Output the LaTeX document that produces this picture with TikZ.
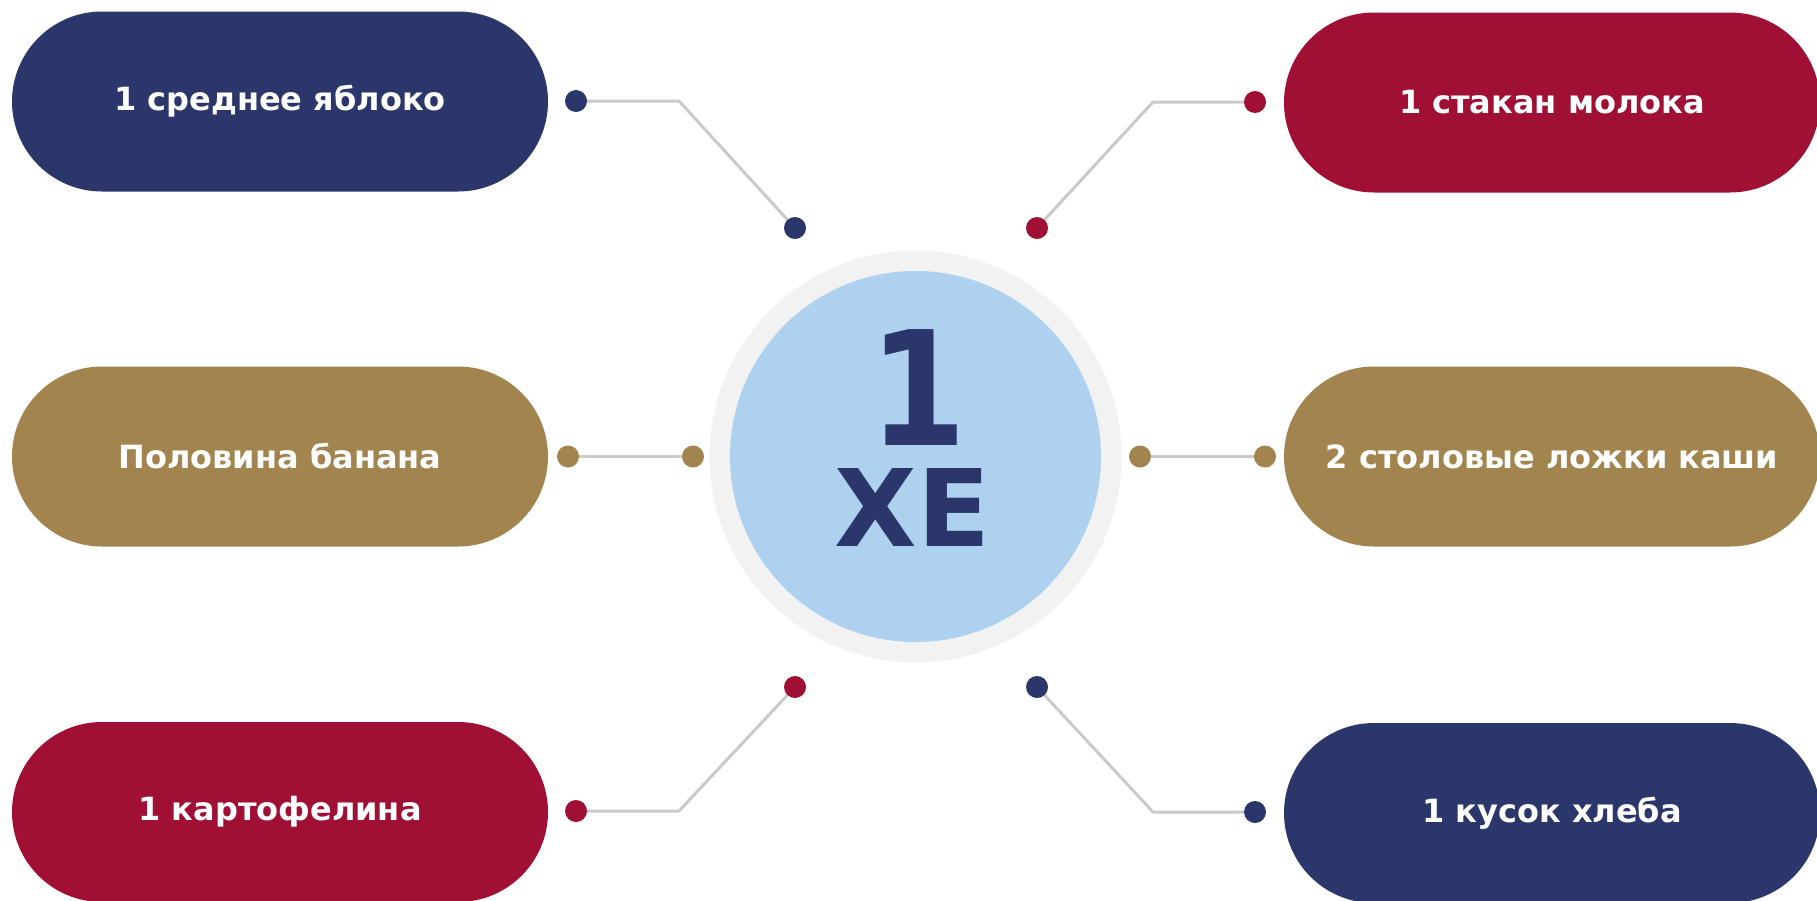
\documentclass[tikz,border=0pt]{standalone}
\usepackage{fontspec}
\setmainfont{DejaVu Sans}
\usetikzlibrary{backgrounds}
\definecolor{navy}{HTML}{2B376B}
\definecolor{crimson}{HTML}{A01035}
\definecolor{gold}{HTML}{A2844F}
\definecolor{skyfill}{HTML}{ADD1EE}
\definecolor{ringgray}{HTML}{F2F2F2}
\definecolor{linkgray}{HTML}{CACACA}
\begin{document}
\begin{tikzpicture}[x=1pt,y=-1pt,
  pill/.style={fill=#1, rounded corners=90pt, minimum width=536pt,
    minimum height=180pt, inner sep=0pt, text=white,
    font=\fontsize{32}{38}\selectfont\bfseries},
  dot/.style={circle, fill=#1, minimum size=22pt, inner sep=0pt},
  link/.style={draw=linkgray, line width=3pt},
  badge/.style={text=navy, inner sep=0pt, align=center,
    font=\fontsize{107}{101}\selectfont\bfseries}]
\useasboundingbox (0,0) rectangle (1817,900);
\clip (0,0) rectangle (1817,900);

% centre badge
\node[circle, fill=ringgray, minimum size=412pt, inner sep=0pt] (ring) at (915.5,456.5) {};
\node[circle, fill=skyfill, minimum size=371pt, inner sep=0pt] (core) at (915.5,456.5) {};
\node[badge] (unit) at (912.5,438.5)
  {\hspace*{11pt}{\fontsize{159}{159}\selectfont\scalebox{0.88}[1]{1}}\\ХЕ};

% item pills
\node[pill=navy]    (apple)   at (280,101.5) {1 среднее яблоко};
\node[pill=gold]    (banana)  at (280,456.5) {Половина банана};
\node[pill=crimson] (potato)  at (280,812)   {1 картофелина};
\node[pill=crimson] (milk)    at (1552,102.5){1 стакан молока};
\node[pill=gold]    (porridge)at (1552,456.5){2 столовые ложки каши};
\node[pill=navy]    (bread)   at (1552,813)  {1 кусок хлеба};

% connector end dots
\node[dot=navy]    (tlA) at (576,101) {};
\node[dot=navy]    (tlB) at (795,228) {};
\node[dot=crimson] (trA) at (1255,102) {};
\node[dot=crimson] (trB) at (1037,228) {};
\node[dot=gold]    (mlA) at (568,456.5) {};
\node[dot=gold]    (mlB) at (693,456.5) {};
\node[dot=gold]    (mrA) at (1140,456.5) {};
\node[dot=gold]    (mrB) at (1265,456.5) {};
\node[dot=crimson] (blA) at (576,811) {};
\node[dot=crimson] (blB) at (795,687) {};
\node[dot=navy]    (brA) at (1255,812) {};
\node[dot=navy]    (brB) at (1037,687) {};

% elbow points
\coordinate (tlK) at (679,101);
\coordinate (trK) at (1153,102);
\coordinate (blK) at (679,811);
\coordinate (brK) at (1153,812);

\begin{scope}[on background layer]
  \fill[white] (0,0) rectangle (1817,900);
  \draw[link] (tlA.center) -- (tlK) -- (tlB.center);
  \draw[link] (trA.center) -- (trK) -- (trB.center);
  \draw[link] (mlA.center) -- (mlB.center);
  \draw[link] (mrA.center) -- (mrB.center);
  \draw[link] (blA.center) -- (blK) -- (blB.center);
  \draw[link] (brA.center) -- (brK) -- (brB.center);
\end{scope}
\end{tikzpicture}
\end{document}
